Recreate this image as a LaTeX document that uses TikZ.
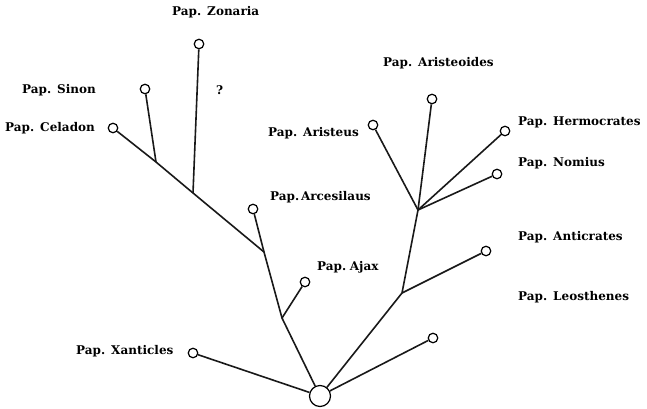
\documentclass[tikz,border=0pt]{standalone}
\usepackage{fontspec}
\setmainfont{DejaVu Serif}
\newcommand{\pap}[1]{Pap.\hspace{0.5em}#1}
\begin{document}
\begin{tikzpicture}[x=1pt,y=-1pt,
  leaf/.style={circle,draw,line width=1.2pt,inner sep=0pt,minimum size=9.5pt},
  rootc/.style={circle,draw,line width=1.2pt,inner sep=0pt,minimum size=21pt},
  branch/.style={line width=1.6pt,black!90},
  lbl/.style={anchor=west,inner sep=0pt,font=\fontsize{12}{14}\selectfont\bfseries}]
\useasboundingbox (0,0) rectangle (647,409);
% nodes
\node[rootc] (root) at (320,396) {};
\node[leaf] (xan) at (193,353) {};
\node[leaf] (leo) at (433,338) {};
\node[leaf] (ajax) at (305,282) {};
\node[leaf] (arc) at (253,209) {};
\node[leaf] (cel) at (113,128) {};
\node[leaf] (sin) at (145,89) {};
\node[leaf] (zon) at (199,44) {};
\node[leaf] (ant) at (486,251) {};
\node[leaf] (ari) at (373,125) {};
\node[leaf] (aro) at (432,99) {};
\node[leaf] (her) at (505,131) {};
\node[leaf] (nom) at (497,174) {};
% junctions
\coordinate (jaj) at (282,318);
\coordinate (jarc) at (264,252);
\coordinate (jzon) at (193,193);
\coordinate (jsin) at (156,162);
\coordinate (jant) at (402,293);
\coordinate (jup) at (418,210);
% branches
\draw[branch] (root) -- (xan);
\draw[branch] (root) -- (leo);
\draw[branch] (root) -- (jaj) -- (jarc) -- (arc);
\draw[branch] (jaj) -- (ajax);
\draw[branch] (jarc) -- (jzon) -- (jsin) -- (cel);
\draw[branch] (jzon) -- (zon);
\draw[branch] (jsin) -- (sin);
\draw[branch] (root) -- (jant) -- (jup) -- (aro);
\draw[branch] (jant) -- (ant);
\draw[branch] (jup) -- (ari);
\draw[branch] (jup) -- (her);
\draw[branch] (jup) -- (nom);
% labels
\node[lbl] (tzon) at (172,12) {\pap{Zonaria}};
\node[lbl] (tq) at (216,90) {?};
\node[lbl] (tsin) at (22,90) {\pap{Sinon}};
\node[lbl] (tcel) at (5,128) {\pap{Celadon}};
\node[lbl] (tarc) at (270,197) {Pap.\hspace{0.15em}Arcesilaus};
\node[lbl] (taj) at (317,267) {Pap.\hspace{0.3em}Ajax};
\node[lbl] (txan) at (76,351) {\pap{Xanticles}};
\node[lbl] (taro) at (383,63) {\pap{Aristeoides}};
\node[lbl] (tari) at (268,133) {\pap{Aristeus}};
\node[lbl] (ther) at (518,122) {\pap{Hermocrates}};
\node[lbl] (tnom) at (518,163) {\pap{Nomius}};
\node[lbl] (tant) at (518,237) {\pap{Anticrates}};
\node[lbl] (tleo) at (518,297) {\pap{Leosthenes}};
\end{tikzpicture}
\end{document}
